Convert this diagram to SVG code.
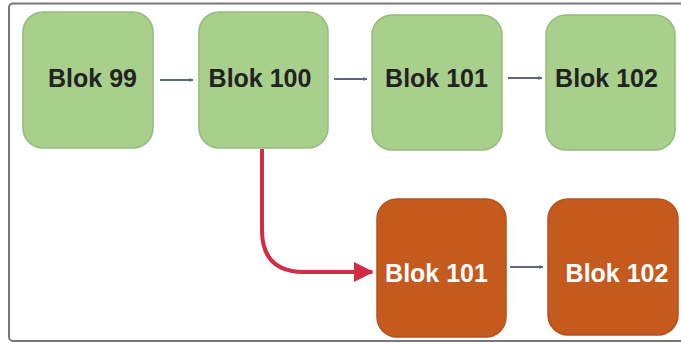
<svg xmlns="http://www.w3.org/2000/svg" width="681" height="343" viewBox="0 0 681 343">
<defs>
<style>
.g{fill:#a8cf8c;stroke:#93bd7a;stroke-width:1.5}
.o{fill:#c55a1e;stroke:#b5521b;stroke-width:1.5}
.t{font-family:"Liberation Sans",Arial,sans-serif;font-weight:bold;font-size:25px;text-anchor:middle}
.tg{fill:#222}
.tw{fill:#fff}
.a{stroke:#5b6680;stroke-width:2;fill:none}
</style>
<marker id="ah" viewBox="0 0 10 10" refX="9" refY="5" markerWidth="4" markerHeight="4" orient="auto" markerUnits="userSpaceOnUse">
<path d="M0,0 L10,5 L0,10 Z" fill="#5b6680"/>
</marker>
<marker id="ahr" viewBox="0 0 10 10" refX="9" refY="5" markerWidth="5" markerHeight="5" orient="auto">
<path d="M0,0 L10,5 L0,10 Z" fill="#d22b45"/>
</marker>
</defs>
<rect x="1" y="1" width="679" height="341" fill="#fff"/>
<rect x="9" y="3.5" width="680" height="337.5" rx="4" fill="#fff" stroke="#777" stroke-width="2"/>
<g id="connectors">
<line class="a" x1="160" y1="80" x2="193" y2="80" marker-end="url(#ah)"/>
<line class="a" x1="334" y1="79" x2="367" y2="79" marker-end="url(#ah)"/>
<line class="a" x1="508" y1="78" x2="542" y2="78" marker-end="url(#ah)"/>
<line class="a" x1="510" y1="267" x2="543" y2="267" stroke="#6a4a5e" marker-end="url(#ah)"/>
<path d="M262,149 L262,230 Q262,272 304,272 L372,272" fill="none" stroke="#d22b45" stroke-width="4" marker-end="url(#ahr)"/>
</g>
<g id="n99"><rect class="g" x="23" y="12" width="130" height="136" rx="20"/><text class="t tg" x="92.5" y="87">Blok 99</text></g>
<g id="n100"><rect class="g" x="199" y="12" width="129" height="136" rx="20"/><text class="t tg" x="260" y="87">Blok 100</text></g>
<g id="n101"><rect class="g" x="372" y="15" width="130" height="135" rx="20"/><text class="t tg" x="436.5" y="87">Blok 101</text></g>
<g id="n102"><rect class="g" x="546" y="15" width="129" height="135" rx="20"/><text class="t tg" x="606.5" y="87">Blok 102</text></g>
<g id="o101"><rect class="o" x="377" y="199" width="129" height="138" rx="20"/><text class="t tw" x="436.5" y="282">Blok 101</text></g>
<g id="o102"><rect class="o" x="548" y="199" width="130" height="136" rx="20"/><text class="t tw" x="617" y="282">Blok 102</text></g>
</svg>
